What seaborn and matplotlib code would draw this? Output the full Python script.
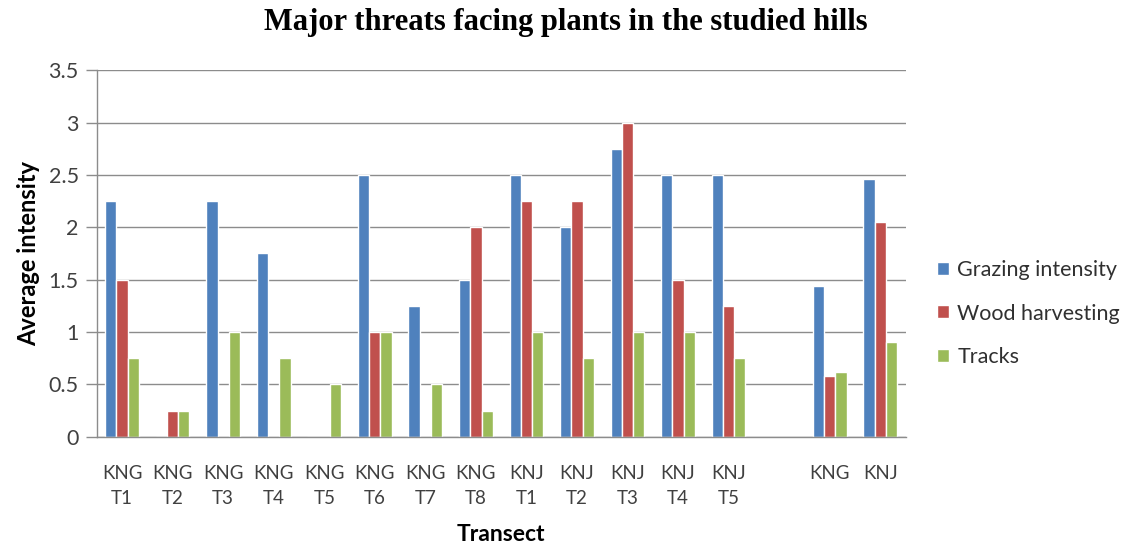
import matplotlib
matplotlib.use("Agg")
import matplotlib.pyplot as plt
import seaborn as sns
import pandas as pd
import numpy as np

# Transect labels (the blank slot separates transects from hill averages)
categories = ["KNG\nT1", "KNG\nT2", "KNG\nT3", "KNG\nT4", "KNG\nT5", "KNG\nT6",
              "KNG\nT7", "KNG\nT8", "KNJ\nT1", "KNJ\nT2", "KNJ\nT3", "KNJ\nT4",
              "KNJ\nT5", " ", "KNG", "KNJ"]

grazing = [2.25, 0, 2.25, 1.75, 0, 2.5, 1.25, 1.5, 2.5, 2.0, 2.75, 2.5, 2.5, np.nan, 1.44, 2.46]
wood = [1.5, 0.25, 0, 0, 0, 1.0, 0, 2.0, 2.25, 2.25, 3.0, 1.5, 1.25, np.nan, 0.58, 2.05]
tracks = [0.75, 0.25, 1.0, 0.75, 0.5, 1.0, 0.5, 0.25, 1.0, 0.75, 1.0, 1.0, 0.75, np.nan, 0.62, 0.90]

series_names = ["Grazing intensity", "Wood harvesting", "Tracks"]
colors = ["#4F81BD", "#C0504D", "#9BBB59"]

frames = []
for name, vals in zip(series_names, [grazing, wood, tracks]):
    frames.append(pd.DataFrame({"Transect": categories, "Threat": name, "Intensity": vals}))
df = pd.concat(frames, ignore_index=True).dropna()

sns.set_theme(style="white")
plt.rcParams["font.family"] = ["Lato", "DejaVu Sans"]

fig = plt.figure(figsize=(11.39, 5.48), dpi=100)
ax = fig.add_axes([0.085, 0.203, 0.710, 0.669])

sns.barplot(data=df, x="Transect", y="Intensity", hue="Threat",
            order=categories, hue_order=series_names, palette=colors,
            width=0.667, saturation=1, errorbar=None, ax=ax, legend=True)

ax.set_xlim(-0.5, len(categories) - 0.5)
ax.set_ylim(0, 3.5)
yt = np.arange(0, 3.51, 0.5)
ax.set_yticks(yt)
ax.set_yticklabels([f"{v:g}" for v in yt])
ax.yaxis.grid(True, color="#8C8C8C", linewidth=1.0)
ax.set_axisbelow(True)

for side in ["top", "right"]:
    ax.spines[side].set_visible(False)
for side in ["left", "bottom"]:
    ax.spines[side].set_color("#8C8C8C")
    ax.spines[side].set_linewidth(1.0)

ax.tick_params(axis="y", which="major", left=True, length=8, width=1.0,
               color="#8C8C8C", labelsize=15.5, labelcolor="#404040", pad=5)
ax.tick_params(axis="x", bottom=False, labelsize=13.5, labelcolor="#404040", pad=14)
for lbl in ax.get_xticklabels():
    lbl.set_linespacing(1.6)

ax.set_xlabel("Transect", fontsize=16.5, fontweight="bold", color="black", labelpad=12)
ax.set_ylabel("Average intensity", fontsize=17, fontweight="bold", color="black", labelpad=6)

fig.suptitle("Major threats facing plants in the studied hills",
             fontsize=22, fontweight="bold", family="Liberation Serif",
             color="black", x=0.497, y=0.985)

handles, labels = ax.get_legend_handles_labels()
ax.legend(handles, labels, loc="center left", bbox_to_anchor=(1.015, 0.336),
          frameon=False, fontsize=15.5, handlelength=0.55, handleheight=0.55,
          handletextpad=0.4, labelspacing=1.1, labelcolor="#303030")

fig.savefig("out.png", dpi=100)
